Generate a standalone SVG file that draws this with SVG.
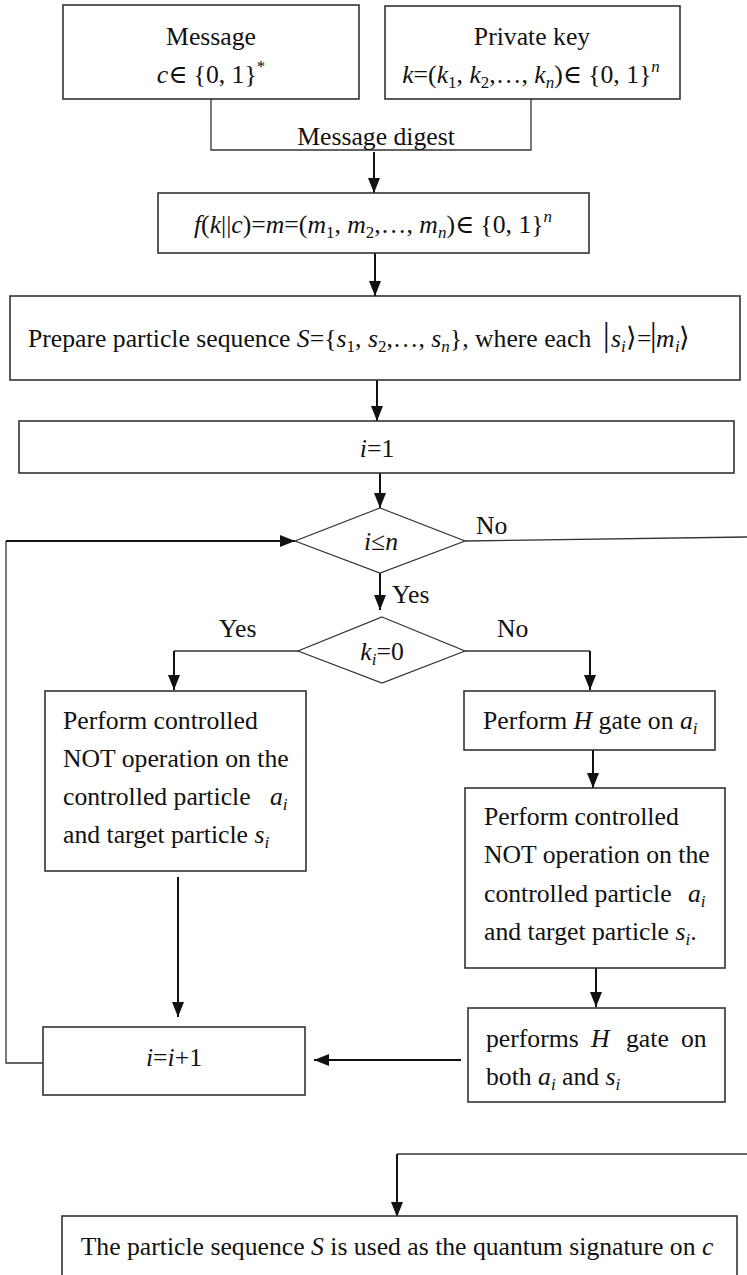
<svg xmlns="http://www.w3.org/2000/svg" width="747" height="1275" viewBox="0 0 747 1275">
<style>
.box{fill:#fff;stroke:#333;stroke-width:1.6}
.ln{fill:none;stroke:#333;stroke-width:1.3}
.ar{fill:none;stroke:#111;stroke-width:2;marker-end:url(#ah)}
.t{font-family:"Liberation Serif","Times New Roman","DejaVu Serif",serif;font-size:25.7px;fill:#111}
.c{text-anchor:middle}
.i{font-style:italic}
.s{font-size:17px}
.k{font-size:33px}
.a{font-size:27px;font-family:"DejaVu Serif","Noto Sans",serif;font-weight:normal}
</style>
<defs>
<marker id="ah" viewBox="0 0 15 12" markerWidth="15" markerHeight="12" refX="15" refY="6" orient="auto" markerUnits="userSpaceOnUse">
<path d="M0,0 L15,6 L0,12 z" fill="#111"/>
</marker>
</defs>
<rect width="747" height="1275" fill="#fff"/>

<g id="connectors">
<polyline class="ln" points="211,99 211,150 531,150 531,99"/>
<line class="ar" x1="374" y1="152" x2="374" y2="193"/>
<line class="ar" x1="375" y1="253" x2="375" y2="296"/>
<line class="ar" x1="377" y1="380" x2="377" y2="421"/>
<line class="ar" x1="380" y1="473" x2="380" y2="508"/>
<line class="ar" x1="380" y1="573" x2="380" y2="610"/>
<polyline class="ln" points="298,651 174,651"/>
<line class="ar" x1="174" y1="651" x2="174" y2="690"/>
<polyline class="ln" points="465,651 590,651"/>
<line class="ar" x1="590" y1="651" x2="590" y2="690"/>
<line class="ar" x1="593" y1="750" x2="593" y2="788"/>
<line class="ar" x1="596" y1="968" x2="596" y2="1007"/>
<line class="ar" x1="178" y1="877" x2="178" y2="1017"/>
<line class="ar" x1="461" y1="1060" x2="314" y2="1060"/>
<polyline class="ln" points="43,1063 6,1063 6,541"/>
<line class="ar" x1="6" y1="541" x2="295" y2="541"/>
<line class="ln" x1="465" y1="541" x2="747" y2="537"/>
<polyline class="ln" points="747,1154 397,1154"/>
<line class="ar" x1="397" y1="1154" x2="397" y2="1217"/>
</g>

<g id="message">
<rect class="box" x="63" y="5" width="296" height="94"/>
<text class="t c" x="211" y="45">Message</text>
<text class="t c" x="211" y="83"><tspan class="i">c</tspan>∈ {0, 1}<tspan class="s" dy="-11">*</tspan></text>
</g>

<g id="privatekey">
<rect class="box" x="385" y="6" width="295" height="93"/>
<text class="t c" x="532" y="45">Private key</text>
<text class="t c" x="531" y="83"><tspan class="i">k</tspan>=(<tspan class="i">k</tspan><tspan class="s" dy="5">1</tspan><tspan dy="-5">, </tspan><tspan class="i">k</tspan><tspan class="s" dy="5">2</tspan><tspan dy="-5">,…, </tspan><tspan class="i">k</tspan><tspan class="s i" dy="5">n</tspan><tspan dy="-5">)∈ {0, 1}</tspan><tspan class="s i" dy="-11">n</tspan></text>
</g>

<g id="digest-label">
<text class="t c" x="376" y="145">Message digest</text>
</g>

<g id="digest">
<rect class="box" x="158" y="193" width="431" height="60"/>
<text class="t c" x="373" y="233"><tspan class="i">f</tspan>(<tspan class="i">k</tspan>||<tspan class="i">c</tspan>)=<tspan class="i">m</tspan>=(<tspan class="i">m</tspan><tspan class="s" dy="5">1</tspan><tspan dy="-5">, </tspan><tspan class="i">m</tspan><tspan class="s" dy="5">2</tspan><tspan dy="-5">,…, </tspan><tspan class="i">m</tspan><tspan class="s i" dy="5">n</tspan><tspan dy="-5">)∈ {0, 1}</tspan><tspan class="s i" dy="-11">n</tspan></text>
</g>

<g id="prepare">
<rect class="box" x="10" y="296" width="730" height="84"/>
<text class="t" x="28" y="347">Prepare particle sequence <tspan class="i">S</tspan>={<tspan class="i">s</tspan><tspan class="s" dy="5">1</tspan><tspan dy="-5">, </tspan><tspan class="i">s</tspan><tspan class="s" dy="5">2</tspan><tspan dy="-5">,…, </tspan><tspan class="i">s</tspan><tspan class="s i" dy="5">n</tspan><tspan dy="-5">}, where each</tspan></text>
<text class="t" y="347"><tspan class="k" x="603" y="346">|</tspan><tspan class="i" x="611" y="347">s</tspan><tspan class="s i" x="621" y="352">i</tspan><tspan class="a" x="626" y="346">⟩</tspan><tspan x="637" y="347">=</tspan><tspan class="k" x="650" y="346">|</tspan><tspan class="i" x="656" y="347">m</tspan><tspan class="s i" x="675" y="352">i</tspan><tspan class="a" x="679" y="346">⟩</tspan></text>
</g>

<g id="init">
<rect class="box" x="19" y="421" width="715" height="52"/>
<text class="t c" x="377" y="457"><tspan class="i">i</tspan>=1</text>
</g>

<g id="cond-n">
<polygon class="box" points="380,508 465,541 380,573 295,541" style="stroke-width:1.2"/>
<text class="t c" x="381" y="550"><tspan class="i">i</tspan>≤<tspan class="i">n</tspan></text>
</g>
<text class="t" x="476" y="534">No</text>
<text class="t" x="392" y="603">Yes</text>

<g id="cond-k">
<polygon class="box" points="382,617 465,651 382,683 298,651" style="stroke-width:1.2"/>
<text class="t c" x="382" y="660"><tspan class="i">k</tspan><tspan class="s i" dy="5">i</tspan><tspan dy="-5">=0</tspan></text>
</g>
<text class="t" x="219" y="637">Yes</text>
<text class="t" x="497" y="637">No</text>

<g id="cnot-left">
<rect class="box" x="45" y="691" width="261" height="180"/>
<text class="t" x="63" y="729">Perform controlled</text>
<text class="t" x="63" y="767">NOT operation on the</text>
<text class="t" x="63" y="805">controlled particle <tspan class="i" x="270">a</tspan><tspan class="s i" dy="5">i</tspan></text>
<text class="t" x="63" y="843">and target particle <tspan class="i">s</tspan><tspan class="s i" dy="5">i</tspan></text>
</g>

<g id="hgate">
<rect class="box" x="464" y="691" width="251" height="59"/>
<text class="t" x="483" y="729">Perform <tspan class="i">H</tspan> gate on <tspan class="i">a</tspan><tspan class="s i" dy="5">i</tspan></text>
</g>

<g id="cnot-right">
<rect class="box" x="465" y="788" width="260" height="180"/>
<text class="t" x="484" y="825">Perform controlled</text>
<text class="t" x="484" y="863">NOT operation on the</text>
<text class="t" x="484" y="902">controlled particle <tspan class="i" x="688">a</tspan><tspan class="s i" dy="5">i</tspan></text>
<text class="t" x="484" y="940">and target particle <tspan class="i">s</tspan><tspan class="s i" dy="5">i</tspan><tspan dy="-5">.</tspan></text>
</g>

<g id="hgate2">
<rect class="box" x="468" y="1008" width="257" height="94"/>
<text class="t" x="486" y="1047">performs<tspan class="i" x="591">H</tspan><tspan x="626">gate</tspan><tspan x="681">on</tspan></text>
<text class="t" x="486" y="1085">both <tspan class="i">a</tspan><tspan class="s i" dy="5">i</tspan><tspan dy="-5"> and </tspan><tspan class="i">s</tspan><tspan class="s i" dy="5">i</tspan></text>
</g>

<g id="inc">
<rect class="box" x="43" y="1027" width="262" height="68"/>
<text class="t c" x="174" y="1066"><tspan class="i">i</tspan>=<tspan class="i">i</tspan>+1</text>
</g>

<g id="output">
<rect class="box" x="62" y="1216" width="675" height="80"/>
<text class="t c" x="397" y="1255">The particle sequence <tspan class="i">S</tspan> is used as the quantum signature on <tspan class="i">c</tspan></text>
</g>
</svg>
